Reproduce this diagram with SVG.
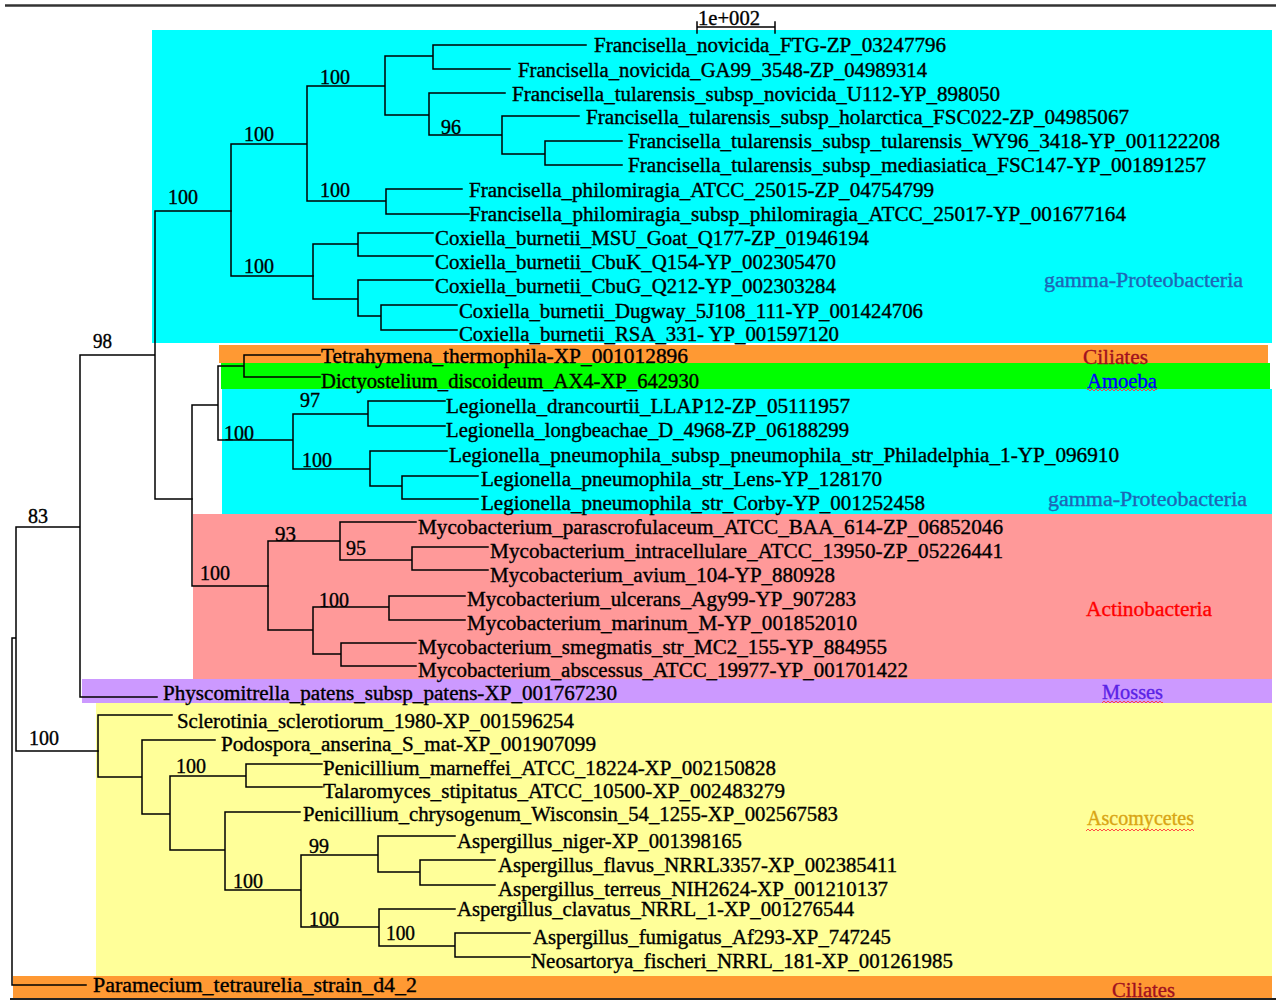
<svg xmlns="http://www.w3.org/2000/svg" width="1276" height="1001" viewBox="0 0 1276 1001">
<style>
.br{stroke:#000;stroke-width:1.5;fill:none;stroke-linecap:square}
.lb{font-family:"Liberation Serif","Times New Roman",serif;font-size:20px;fill:#000;stroke:#000;stroke-width:0.35}
.bs{font-family:"Liberation Serif","Times New Roman",serif;font-size:20px;fill:#000;stroke:#000;stroke-width:0.35}
.gl{font-family:"Liberation Serif","Times New Roman",serif;font-size:20px;stroke-width:0.35}
</style>
<defs>
<pattern id="wave" width="4" height="4" patternUnits="userSpaceOnUse"><path d="M0,1 L2,3 L4,1" stroke="#FF3B3B" stroke-width="0.9" fill="none"/></pattern>
</defs>
<rect width="1276" height="1001" fill="#FFFFFF"/>
<g id="bands">
<rect x="152" y="30" width="1120" height="313" fill="#00FFFF"/>
<rect x="219" y="345" width="1049" height="18" fill="#FF9933"/>
<rect x="221" y="363" width="1049" height="26" fill="#00FF00"/>
<rect x="222" y="389" width="1050" height="125" fill="#00FFFF"/>
<rect x="193" y="514" width="1079" height="165" fill="#FF9999"/>
<rect x="82" y="679" width="1190" height="24" fill="#CC99FF"/>
<rect x="96" y="703" width="1176" height="273" fill="#FFFF99"/>
<rect x="13" y="976" width="1259" height="22" fill="#FF9933"/>
</g>
<g id="frame">
<line x1="5" y1="5.5" x2="1276" y2="5.5" stroke="#333" stroke-width="2.5"/>
<line x1="10" y1="999" x2="1276" y2="999" stroke="#222" stroke-width="2"/>
</g>
<g id="scale-bar">
<path class="br" d="M697,27 H775 M697,22 V33 M775,22 V33"/>
<text class="bs" x="698" y="25" textLength="62" lengthAdjust="spacingAndGlyphs">1e+002</text>
</g>
<g id="connectors">
<path class="br" d="M12,638 V985 M12,638 H16 M12,985 H86 M16,527 V751 M16,527 H80 M16,751 H98 M80,355 V697 M80,355 H155 M80,697 H157 M155,211 V499 M155,211 H231 M155,499 H192"/>
<path class="br" d="M231,144 V276 M231,144 H307 M231,276 H313 M307,86 V201 M307,86 H385 M307,201 H386 M385,56 V115 M385,56 H433 M385,115 H429 M433,45 V69 M433,45 H586 M433,69 H510 M429,93 V135 M429,93 H505 M429,135 H502 M502,116 V154 M502,116 H579 M502,154 H545 M545,141 V165 M545,141 H622 M545,165 H622 M386,189 V214 M386,189 H462 M386,214 H469"/>
<path class="br" d="M313,244 V299 M313,244 H358 M313,299 H358 M358,233 V256 M358,233 H433 M358,256 H433 M358,280 V316 M358,280 H433 M358,316 H381 M381,305 V330 M381,305 H457 M381,330 H457"/>
<path class="br" d="M192,405 V586 M192,405 H218 M192,586 H268 M218,366 V440 M218,366 H244 M218,440 H293 M244,355 V377 M244,355 H320 M244,377 H320 M293,414 V469 M293,414 H368 M293,469 H370 M368,401 V426 M368,401 H445 M368,426 H445 M370,451 V486 M370,451 H447 M370,486 H402 M402,476 V499 M402,476 H478 M402,499 H478"/>
<path class="br" d="M268,541 V630 M268,541 H340 M268,630 H313 M340,522 V560 M340,522 H416 M340,560 H412 M412,547 V570 M412,547 H488 M412,570 H488 M313,607 V654 M313,607 H389 M313,654 H341 M389,596 V620 M389,596 H465 M389,620 H465 M341,643 V666 M341,643 H416 M341,666 H416"/>
<path class="br" d="M98,715 V777 M98,715 H172 M98,777 H142 M142,740 V814 M142,740 H215 M142,814 H170 M170,776 V850 M170,776 H246 M170,850 H225 M246,764 V787 M246,764 H322 M246,787 H322 M225,812 V890 M225,812 H300 M225,890 H301 M301,855 V927 M301,855 H378 M301,927 H379 M378,836 V872 M378,836 H455 M378,872 H420 M420,860 V885 M420,860 H495 M420,885 H495 M379,909 V946 M379,909 H455 M379,946 H455 M455,933 V957 M455,933 H530 M455,957 H530"/>
<g id="bootstrap">
<text class="bs" x="320" y="84" textLength="30" lengthAdjust="spacingAndGlyphs">100</text>
<text class="bs" x="441" y="134" textLength="20" lengthAdjust="spacingAndGlyphs">96</text>
<text class="bs" x="244" y="141" textLength="30" lengthAdjust="spacingAndGlyphs">100</text>
<text class="bs" x="320" y="197" textLength="30" lengthAdjust="spacingAndGlyphs">100</text>
<text class="bs" x="168" y="204" textLength="30" lengthAdjust="spacingAndGlyphs">100</text>
<text class="bs" x="244" y="273" textLength="30" lengthAdjust="spacingAndGlyphs">100</text>
<text class="bs" x="93" y="348" textLength="19" lengthAdjust="spacingAndGlyphs">98</text>
<text class="bs" x="28" y="523" textLength="20" lengthAdjust="spacingAndGlyphs">83</text>
<text class="bs" x="300" y="407" textLength="20" lengthAdjust="spacingAndGlyphs">97</text>
<text class="bs" x="224" y="440" textLength="30" lengthAdjust="spacingAndGlyphs">100</text>
<text class="bs" x="302" y="467" textLength="30" lengthAdjust="spacingAndGlyphs">100</text>
<text class="bs" x="275" y="541" textLength="21" lengthAdjust="spacingAndGlyphs">93</text>
<text class="bs" x="346" y="555" textLength="20" lengthAdjust="spacingAndGlyphs">95</text>
<text class="bs" x="200" y="580" textLength="30" lengthAdjust="spacingAndGlyphs">100</text>
<text class="bs" x="319" y="607" textLength="30" lengthAdjust="spacingAndGlyphs">100</text>
<text class="bs" x="29" y="745" textLength="30" lengthAdjust="spacingAndGlyphs">100</text>
<text class="bs" x="176" y="773" textLength="30" lengthAdjust="spacingAndGlyphs">100</text>
<text class="bs" x="309" y="853" textLength="20" lengthAdjust="spacingAndGlyphs">99</text>
<text class="bs" x="233" y="888" textLength="30" lengthAdjust="spacingAndGlyphs">100</text>
<text class="bs" x="309" y="926" textLength="30" lengthAdjust="spacingAndGlyphs">100</text>
<text class="bs" x="386" y="940" textLength="29" lengthAdjust="spacingAndGlyphs">100</text>
</g>
</g>
<g id="leaves">
<g id="n01"><text class="lb" x="594" y="52" textLength="352" lengthAdjust="spacingAndGlyphs">Francisella_novicida_FTG-ZP_03247796</text></g>
<g id="n02"><text class="lb" x="518" y="77" textLength="409" lengthAdjust="spacingAndGlyphs">Francisella_novicida_GA99_3548-ZP_04989314</text></g>
<g id="n03"><text class="lb" x="512" y="101" textLength="488" lengthAdjust="spacingAndGlyphs">Francisella_tularensis_subsp_novicida_U112-YP_898050</text></g>
<g id="n04"><text class="lb" x="586" y="124" textLength="543" lengthAdjust="spacingAndGlyphs">Francisella_tularensis_subsp_holarctica_FSC022-ZP_04985067</text></g>
<g id="n05"><text class="lb" x="628" y="148" textLength="592" lengthAdjust="spacingAndGlyphs">Francisella_tularensis_subsp_tularensis_WY96_3418-YP_001122208</text></g>
<g id="n06"><text class="lb" x="628" y="172" textLength="578" lengthAdjust="spacingAndGlyphs">Francisella_tularensis_subsp_mediasiatica_FSC147-YP_001891257</text></g>
<g id="n07"><text class="lb" x="469" y="197" textLength="465" lengthAdjust="spacingAndGlyphs">Francisella_philomiragia_ATCC_25015-ZP_04754799</text></g>
<g id="n08"><text class="lb" x="469" y="221" textLength="657" lengthAdjust="spacingAndGlyphs">Francisella_philomiragia_subsp_philomiragia_ATCC_25017-YP_001677164</text></g>
<g id="n09"><text class="lb" x="435" y="245" textLength="434" lengthAdjust="spacingAndGlyphs">Coxiella_burnetii_MSU_Goat_Q177-ZP_01946194</text></g>
<g id="n10"><text class="lb" x="435" y="269" textLength="401" lengthAdjust="spacingAndGlyphs">Coxiella_burnetii_CbuK_Q154-YP_002305470</text></g>
<g id="n11"><text class="lb" x="435" y="293" textLength="401" lengthAdjust="spacingAndGlyphs">Coxiella_burnetii_CbuG_Q212-YP_002303284</text></g>
<g id="n12"><text class="lb" x="459" y="318" textLength="464" lengthAdjust="spacingAndGlyphs">Coxiella_burnetii_Dugway_5J108_111-YP_001424706</text></g>
<g id="n13"><text class="lb" x="459" y="341" textLength="380" lengthAdjust="spacingAndGlyphs">Coxiella_burnetii_RSA_331- YP_001597120</text></g>
<g id="n14"><text class="lb" x="321" y="363" textLength="367" lengthAdjust="spacingAndGlyphs">Tetrahymena_thermophila-XP_001012896</text></g>
<g id="n15"><text class="lb" x="321" y="388" textLength="378" lengthAdjust="spacingAndGlyphs">Dictyostelium_discoideum_AX4-XP_642930</text></g>
<g id="n16"><text class="lb" x="446" y="413" textLength="404" lengthAdjust="spacingAndGlyphs">Legionella_drancourtii_LLAP12-ZP_05111957</text></g>
<g id="n17"><text class="lb" x="446" y="437" textLength="403" lengthAdjust="spacingAndGlyphs">Legionella_longbeachae_D_4968-ZP_06188299</text></g>
<g id="n18"><text class="lb" x="449" y="462" textLength="670" lengthAdjust="spacingAndGlyphs">Legionella_pneumophila_subsp_pneumophila_str_Philadelphia_1-YP_096910</text></g>
<g id="n19"><text class="lb" x="481" y="486" textLength="401" lengthAdjust="spacingAndGlyphs">Legionella_pneumophila_str_Lens-YP_128170</text></g>
<g id="n20"><text class="lb" x="481" y="510" textLength="444" lengthAdjust="spacingAndGlyphs">Legionella_pneumophila_str_Corby-YP_001252458</text></g>
<g id="n21"><text class="lb" x="418" y="534" textLength="585" lengthAdjust="spacingAndGlyphs">Mycobacterium_parascrofulaceum_ATCC_BAA_614-ZP_06852046</text></g>
<g id="n22"><text class="lb" x="490" y="558" textLength="513" lengthAdjust="spacingAndGlyphs">Mycobacterium_intracellulare_ATCC_13950-ZP_05226441</text></g>
<g id="n23"><text class="lb" x="490" y="582" textLength="345" lengthAdjust="spacingAndGlyphs">Mycobacterium_avium_104-YP_880928</text></g>
<g id="n24"><text class="lb" x="467" y="606" textLength="389" lengthAdjust="spacingAndGlyphs">Mycobacterium_ulcerans_Agy99-YP_907283</text></g>
<g id="n25"><text class="lb" x="467" y="630" textLength="390" lengthAdjust="spacingAndGlyphs">Mycobacterium_marinum_M-YP_001852010</text></g>
<g id="n26"><text class="lb" x="418" y="654" textLength="469" lengthAdjust="spacingAndGlyphs">Mycobacterium_smegmatis_str_MC2_155-YP_884955</text></g>
<g id="n27"><text class="lb" x="418" y="677" textLength="490" lengthAdjust="spacingAndGlyphs">Mycobacterium_abscessus_ATCC_19977-YP_001701422</text></g>
<g id="n28"><text class="lb" x="163" y="700" textLength="454" lengthAdjust="spacingAndGlyphs">Physcomitrella_patens_subsp_patens-XP_001767230</text></g>
<g id="n29"><text class="lb" x="177" y="728" textLength="397" lengthAdjust="spacingAndGlyphs">Sclerotinia_sclerotiorum_1980-XP_001596254</text></g>
<g id="n30"><text class="lb" x="221" y="751" textLength="375" lengthAdjust="spacingAndGlyphs">Podospora_anserina_S_mat-XP_001907099</text></g>
<g id="n31"><text class="lb" x="323" y="775" textLength="453" lengthAdjust="spacingAndGlyphs">Penicillium_marneffei_ATCC_18224-XP_002150828</text></g>
<g id="n32"><text class="lb" x="323" y="798" textLength="462" lengthAdjust="spacingAndGlyphs">Talaromyces_stipitatus_ATCC_10500-XP_002483279</text></g>
<g id="n33"><text class="lb" x="303" y="821" textLength="535" lengthAdjust="spacingAndGlyphs">Penicillium_chrysogenum_Wisconsin_54_1255-XP_002567583</text></g>
<g id="n34"><text class="lb" x="457" y="848" textLength="285" lengthAdjust="spacingAndGlyphs">Aspergillus_niger-XP_001398165</text></g>
<g id="n35"><text class="lb" x="498" y="872" textLength="399" lengthAdjust="spacingAndGlyphs">Aspergillus_flavus_NRRL3357-XP_002385411</text></g>
<g id="n36"><text class="lb" x="498" y="896" textLength="390" lengthAdjust="spacingAndGlyphs">Aspergillus_terreus_NIH2624-XP_001210137</text></g>
<g id="n37"><text class="lb" x="457" y="916" textLength="397" lengthAdjust="spacingAndGlyphs">Aspergillus_clavatus_NRRL_1-XP_001276544</text></g>
<g id="n38"><text class="lb" x="533" y="944" textLength="358" lengthAdjust="spacingAndGlyphs">Aspergillus_fumigatus_Af293-XP_747245</text></g>
<g id="n39"><text class="lb" x="531" y="968" textLength="422" lengthAdjust="spacingAndGlyphs">Neosartorya_fischeri_NRRL_181-XP_001261985</text></g>
<g id="n40"><text class="lb" x="93" y="992" textLength="324" lengthAdjust="spacingAndGlyphs">Paramecium_tetraurelia_strain_d4_2</text></g>
</g>
<g id="group-labels">
<g id="g-gamma1"><text class="gl" x="1044" y="287" style="fill:#1F66B5;stroke:#1F66B5" textLength="199" lengthAdjust="spacingAndGlyphs">gamma-Proteobacteria</text></g>
<g id="g-ciliates1"><text class="gl" x="1083" y="364" style="fill:#A01020;stroke:#A01020" textLength="65" lengthAdjust="spacingAndGlyphs">Ciliates</text></g>
<g id="g-amoeba"><text class="gl" x="1087" y="388" style="fill:#0000FF;stroke:#0000FF" textLength="70" lengthAdjust="spacingAndGlyphs">Amoeba</text><rect x="1087" y="388" width="70" height="4" fill="url(#wave)"/></g>
<g id="g-gamma2"><text class="gl" x="1048" y="506" style="fill:#1F66B5;stroke:#1F66B5" textLength="199" lengthAdjust="spacingAndGlyphs">gamma-Proteobacteria</text></g>
<g id="g-actino"><text class="gl" x="1086" y="616" style="fill:#FF0000;stroke:#FF0000" textLength="126" lengthAdjust="spacingAndGlyphs">Actinobacteria</text></g>
<g id="g-mosses"><text class="gl" x="1102" y="699" style="fill:#5A22E6;stroke:#5A22E6" textLength="61" lengthAdjust="spacingAndGlyphs">Mosses</text><rect x="1102" y="700" width="61" height="4" fill="url(#wave)"/></g>
<g id="g-asco"><text class="gl" x="1087" y="825" style="fill:#D9A514;stroke:#D9A514" textLength="107" lengthAdjust="spacingAndGlyphs">Ascomycetes</text><rect x="1086" y="828" width="108" height="4" fill="url(#wave)"/></g>
<g id="g-ciliates2"><text class="gl" x="1112" y="997" style="fill:#A01020;stroke:#A01020" textLength="63" lengthAdjust="spacingAndGlyphs">Ciliates</text></g>
</g>
</svg>
